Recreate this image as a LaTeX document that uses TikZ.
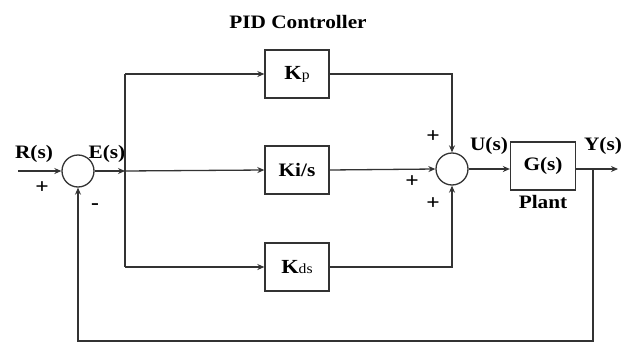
\documentclass[tikz,border=0pt]{standalone}
\usepackage{fontspec}
\setmainfont{Liberation Serif}[FakeStretch=1.12]
\usetikzlibrary{arrows.meta}
\begin{document}
\begin{tikzpicture}[x=1pt,y=-1pt,
  line width=1.3pt, color=black!80,
  arr/.style={-{Stealth[length=7pt,width=6pt]}},
  blk/.style={draw,line width=1.3pt,minimum width=64pt,minimum height=48pt,inner sep=0pt,text=black},
  sumc/.style={draw,line width=1.3pt,circle,minimum size=32pt,inner sep=0pt},
  lbl/.style={font=\fontsize{19}{19}\selectfont\bfseries,inner sep=0pt,text=black},
  sgn/.style={font=\fontsize{21}{21}\selectfont\bfseries,inner sep=0pt,text=black}]
\useasboundingbox (0,0) rectangle (622,343);
% nodes
\node[sumc] (s1) at (78,171) {};
\node[sumc] (s2) at (452,169) {};
\node[blk] (kp) at (297,74) {{\fontsize{20}{20}\selectfont\bfseries K}{\fontsize{14}{14}\selectfont p}};
\node[blk] (ki) at (297,170) {\fontsize{19}{19}\selectfont\bfseries Ki/s};
\node[blk] (kd) at (297,267) {{\fontsize{20}{20}\selectfont\bfseries K}{\fontsize{14}{14}\selectfont ds}};
\node[blk,minimum width=65pt,minimum height=48pt] (g) at (543,166) {\fontsize{19}{19}\selectfont\bfseries G(s)};
\coordinate (rin) at (18,171);
\coordinate (br) at (125,171);
\coordinate (brt) at (125,74);
\coordinate (brb) at (125,267);
\coordinate (kpc) at (452,74);
\coordinate (kdc) at (452,267);
\coordinate (yb) at (593,169);
\coordinate (yout) at (618,169);
\coordinate (fbr) at (593,341);
\coordinate (fbl) at (78,341);
% labels
\node[lbl] at (298,22) {PID Controller};
\node[lbl] at (34,154) {R(s)};
\node[lbl] at (107,154) {E(s)};
\node[lbl] at (489,146) {U(s)};
\node[lbl] at (603,146) {Y(s)};
\node[lbl] at (543,202) {Plant};
\node[sgn] at (42,188) {+};
\node[sgn] at (95,207) {-};
\node[sgn] at (433,137) {+};
\node[sgn] at (412,182) {+};
\node[sgn] at (433,204) {+};
% connectors
\draw[arr] (rin) -- (s1.west);
\draw[arr] (s1.east) -- (br);
\draw[arr] (br) -- (ki.west);
\draw (brt) -- (brb);
\draw[arr] (brt) -- (kp.west);
\draw[arr] (brb) -- (kd.west);
\draw[arr] (kp.east) -- (kpc) -- (s2.north);
\draw[arr] (ki.east) -- (s2.west);
\draw[arr] (kd.east) -- (kdc) -- (s2.south);
\draw[arr] (s2.east) -- (g.west |- s2.east);
\draw[arr] (g.east |- yb) -- (yout);
\draw[arr] (yb) -- (fbr) -- (fbl) -- (s1.south);
\end{tikzpicture}
\end{document}
